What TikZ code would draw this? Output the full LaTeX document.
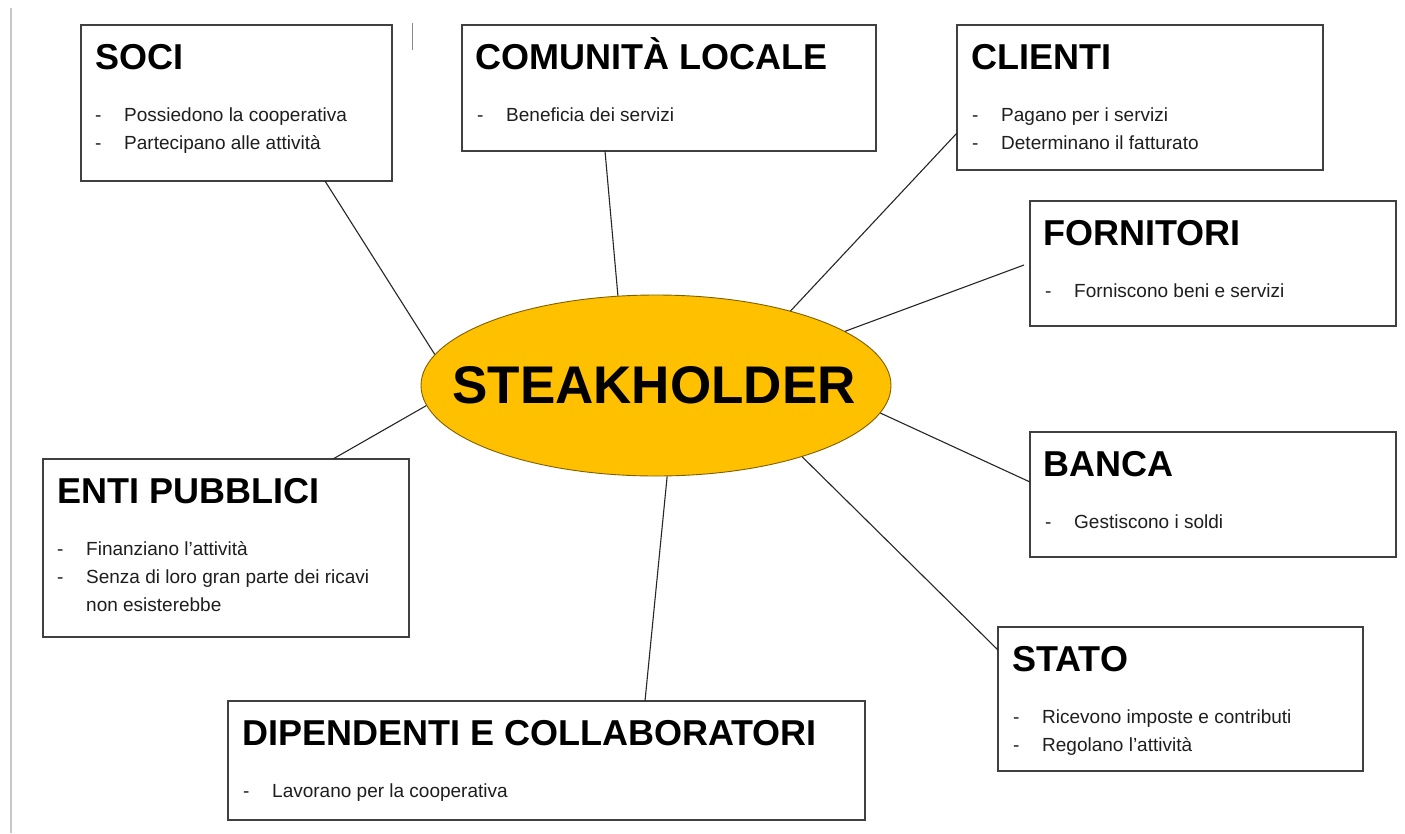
\documentclass[tikz,border=0pt]{standalone}
\usepackage{fontspec}
\usetikzlibrary{shapes.geometric}
\newfontfamily\libsans{Liberation Sans}
\definecolor{boxline}{HTML}{404040}
\definecolor{goldfill}{HTML}{FFC000}
\definecolor{goldline}{HTML}{7F6000}
\definecolor{bodytext}{HTML}{1E1E1E}
\definecolor{faintgray}{HTML}{C8C8C8}
\definecolor{midgray}{HTML}{8A8A8A}
\newcommand{\titfont}{\libsans\bfseries\fontsize{36}{40}\selectfont}
\newcommand{\bodfont}{\libsans\fontsize{19}{28}\selectfont}
\newcommand{\bul}[1]{\makebox[29pt][l]{-}#1}
\begin{document}
\begin{tikzpicture}[x=1pt,y=-1pt,
  sbox/.style={draw=boxline, line width=1.4pt, fill=white, anchor=north west, inner sep=0pt, outer sep=0pt},
  stitle/.style={anchor=base west, inner sep=0pt, font=\titfont, text=black},
  sitem/.style={anchor=base west, inner sep=0pt, font=\bodfont, text=bodytext},
  link/.style={draw=black!85, line width=1.1pt}]
\useasboundingbox[fill=white] (0,0) rectangle (1405,833);
\draw[faintgray, line width=1.5pt] (11,8) -- (11,833);
\draw[midgray, line width=1.2pt] (412.5,23) -- (412.5,50);

% ellipse
\node[ellipse, draw=goldline, line width=0.9pt, fill=goldfill, minimum width=470pt, minimum height=181pt, inner sep=0pt] (ell) at (656,385.5) {};
\node[anchor=base, inner sep=0pt, font=\libsans\bfseries\fontsize{53}{60}\selectfont] (stk) at (654,403) {STEAKHOLDER};

% boxes
\node[sbox, minimum width=311pt, minimum height=156pt] (soci) at (81,25) {};
\node[sbox, minimum width=414pt, minimum height=126pt] (com) at (462,25) {};
\node[sbox, minimum width=366pt, minimum height=145pt] (cli) at (957,25) {};
\node[sbox, minimum width=366pt, minimum height=125pt] (forn) at (1030,201) {};
\node[sbox, minimum width=366pt, minimum height=125pt] (banca) at (1030,432) {};
\node[sbox, minimum width=365pt, minimum height=144pt] (stato) at (998,627) {};
\node[sbox, minimum width=366pt, minimum height=178pt] (enti) at (43,459) {};
\node[sbox, minimum width=637pt, minimum height=119pt] (dip) at (228,701) {};

% texts
\node[stitle] (sociT) at (95,69) {SOCI};
\node[sitem] (soci1) at (95,121) {\bul{Possiedono la cooperativa}};
\node[sitem] (soci2) at (95,149) {\bul{Partecipano alle attività}};

\node[stitle] (comT) at (475,69) {COMUNITÀ LOCALE};
\node[sitem] (com1) at (477,121) {\bul{Beneficia dei servizi}};

\node[stitle] (cliT) at (971,69) {CLIENTI};
\node[sitem] (cli1) at (972,121) {\bul{Pagano per i servizi}};
\node[sitem] (cli2) at (972,149) {\bul{Determinano il fatturato}};

\node[stitle] (fornT) at (1043,245) {FORNITORI};
\node[sitem] (forn1) at (1045,297) {\bul{Forniscono beni e servizi}};

\node[stitle] (bancaT) at (1043,476) {BANCA};
\node[sitem] (banca1) at (1045,528) {\bul{Gestiscono i soldi}};

\node[stitle] (statoT) at (1012,671) {STATO};
\node[sitem] (stato1) at (1013,723) {\bul{Ricevono imposte e contributi}};
\node[sitem] (stato2) at (1013,751) {\bul{Regolano l’attività}};

\node[stitle] (entiT) at (57,503) {ENTI PUBBLICI};
\node[sitem] (enti1) at (57,555) {\bul{Finanziano l’attività}};
\node[sitem] (enti2) at (57,583) {\bul{Senza di loro gran parte dei ricavi}};
\node[sitem] (enti3) at (86,611) {non esisterebbe};

\node[stitle] (dipT) at (242,745) {DIPENDENTI E COLLABORATORI};
\node[sitem] (dip1) at (243,797) {\bul{Lavorano per la cooperativa}};

% connectors
\draw[link] ([xshift=244pt]soci.south west) -- (ell.172.4);
\draw[link] ([xshift=143pt]com.south west) -- (ell.113.3);
\draw[link] ([yshift=37pt]cli.south west) -- (ell.29.5);
\draw[link] ([xshift=-6pt,yshift=-1.5pt]forn.west) -- (ell.16.9);
\draw[link] ([yshift=12.5pt]banca.west) -- (ell.-7.1);
\draw[link] ([yshift=-23pt]stato.north west) -- (ell.-26.1);
\draw[link] ([xshift=417pt]dip.north west) -- (ell.-83);
\draw[link] ([xshift=290pt]enti.north west) -- (ell.185.4);
\end{tikzpicture}
\end{document}
